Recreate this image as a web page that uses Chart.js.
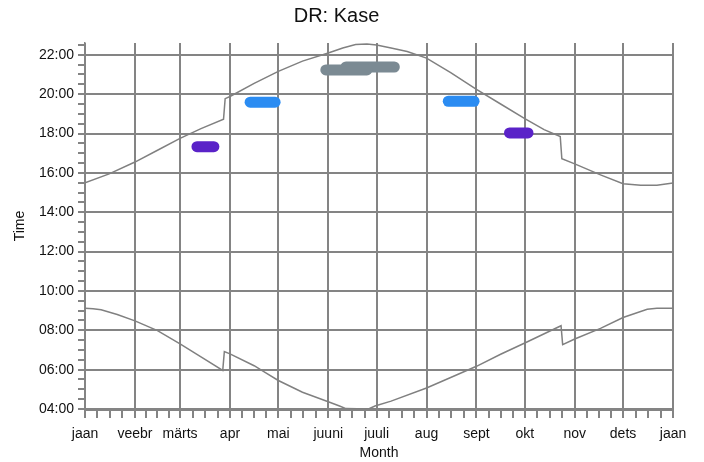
<!DOCTYPE html>
<html lang="et">
<head>
  <meta charset="UTF-8" />
  <title>DR: Kase</title>
  <script src="https://cdn.jsdelivr.net/npm/chart.js"></script>
  <style>
    html, body { margin: 0; padding: 0; background: #fff; }
    #wrap { width: 704px; height: 462px; }
  </style>
</head>
<body>
  <div id="wrap"><canvas id="chart"></canvas></div>

  <script>
    // month ticks (day of year)
    const monthLabels = ['jaan', 'veebr', 'märts', 'apr', 'mai', 'juuni', 'juuli', 'aug', 'sept', 'okt', 'nov', 'dets', 'jaan'];
    const monthStartDays = [0, 31, 59, 90, 120, 151, 181, 212, 243, 273, 304, 334, 365];

    // sunset (upper curve), hours
    const sunsetDays  = [0, 15, 31, 45, 59, 72, 86, 87, 90, 105, 120, 135, 151, 160, 168, 175, 181, 190, 200, 212, 227, 243, 258, 273, 285, 295, 296, 304, 320, 334, 345, 355, 365];
    const sunsetTimes = [15.50, 15.95, 16.55, 17.15, 17.75, 18.25, 18.73, 19.77, 19.88, 20.55, 21.16, 21.68, 22.09, 22.35, 22.52, 22.55, 22.50, 22.35, 22.17, 21.83, 21.10, 20.24, 19.50, 18.76, 18.20, 17.85, 16.72, 16.46, 15.90, 15.45, 15.37, 15.37, 15.49];

    // sunrise (lower curve), hours
    const sunriseDays  = [0, 5, 10, 20, 31, 45, 59, 72, 85.5, 86.5, 90, 105, 112, 120, 135, 151, 158, 162, 176, 180, 190, 212, 227, 243, 258, 274, 295.5, 296.5, 304, 320, 334, 349, 355, 365];
    const sunriseTimes = [9.12, 9.10, 9.04, 8.80, 8.48, 7.98, 7.31, 6.65, 5.96, 6.92, 6.80, 6.20, 5.85, 5.45, 4.85, 4.37, 4.15, 4.02, 4.00, 4.15, 4.40, 5.07, 5.60, 6.17, 6.78, 7.39, 8.23, 7.27, 7.56, 8.10, 8.65, 9.07, 9.12, 9.12];

    // observed bands (flowering periods)
    const bandStartDay = [69.5, 102.5, 149.5, 162, 225.5, 263.5];
    const bandEndDay   = [80, 118, 175, 192, 241.5, 275];
    const bandTime     = [17.33, 19.59, 21.23, 21.38, 19.64, 18.03];

    // y ticks every half hour, labels on even hours
    const yMin = 4, yMax = 22.6;

    const bandColors = ['#5a22c8', '#2b8cf2', '#7b8a93', '#7b8a93', '#2b8cf2', '#5a22c8'];
    const gridGray = '#848484';
    const font = 'Liberation Sans';

    const toPoints = (xs, ys) => xs.map((x, i) => ({x: x, y: ys[i]}));

    const datasets = [
      {data: toPoints(sunsetDays, sunsetTimes), borderColor: '#808080', borderWidth: 1.5},
      {data: toPoints(sunriseDays, sunriseTimes), borderColor: '#808080', borderWidth: 1.5}
    ];
    bandTime.forEach((t, i) => {
      datasets.push({
        data: [{x: bandStartDay[i], y: t}, {x: bandEndDay[i], y: t}],
        borderColor: bandColors[i],
        borderWidth: 11,
        borderCapStyle: 'round'
      });
    });
    datasets.forEach(d => { d.showLine = true; d.pointRadius = 0; d.tension = 0; d.fill = false; });

    const pad = n => (n < 10 ? '0' : '') + n;

    new Chart(document.getElementById('chart'), {
      type: 'scatter',
      data: {datasets: datasets},
      options: {
        responsive: true,
        maintainAspectRatio: false,
        animation: false,
        layout: {padding: {left: 0, right: 31, top: 0, bottom: 0}},
        plugins: {
          legend: {display: false},
          tooltip: {enabled: false},
          title: {
            display: true,
            text: 'DR: Kase',
            color: '#111',
            font: {family: font, size: 20, weight: 'normal'},
            padding: {top: 4, bottom: 15}
          }
        },
        scales: {
          x: {
            type: 'linear',
            min: 0,
            max: 365,
            afterFit: s => { s.height = 53; },
            afterBuildTicks: s => {
              const t = [];
              for (let i = 0; i < monthStartDays.length - 1; i++) {
                const a = monthStartDays[i], b = monthStartDays[i + 1];
                for (let k = 0; k < 4; k++) t.push({value: a + (b - a) * k / 4});
              }
              t.push({value: 365});
              s.ticks = t;
            },
            ticks: {
              autoSkip: false,
              maxRotation: 0,
              padding: 8,
              color: '#111',
              font: {family: font, size: 14},
              callback: v => {
                const i = monthStartDays.indexOf(v);
                return i >= 0 ? monthLabels[i] : '';
              }
            },
            grid: {
              color: c => (c.tick && monthStartDays.includes(c.tick.value)) ? gridGray : 'rgba(0,0,0,0)',
              tickColor: gridGray,
              lineWidth: 2,
              tickLength: 9
            },
            border: {color: gridGray, width: 3},
            title: {
              display: true,
              text: 'Month',
              color: '#111',
              font: {family: font, size: 14},
              padding: {top: 8, bottom: 0}
            }
          },
          y: {
            min: yMin,
            max: yMax,
            afterFit: s => { s.width = 85; },
            afterBuildTicks: s => {
              const t = [];
              for (let v = yMin; v <= 22.5; v += 0.5) t.push({value: v});
              s.ticks = t;
            },
            ticks: {
              autoSkip: false,
              padding: 4,
              color: '#111',
              font: {family: font, size: 14},
              callback: v => (v % 2 === 0 ? pad(v) + ':00' : '')
            },
            grid: {
              color: c => (c.tick && c.tick.value % 2 === 0) ? gridGray : 'rgba(0,0,0,0)',
              tickColor: gridGray,
              lineWidth: 2,
              tickLength: 7
            },
            border: {color: gridGray, width: 1.5},
            title: {
              display: true,
              text: 'Time',
              color: '#111',
              font: {family: font, size: 14},
              padding: {top: 12, bottom: 0}
            }
          }
        }
      }
    });
  </script>
</body>
</html>
